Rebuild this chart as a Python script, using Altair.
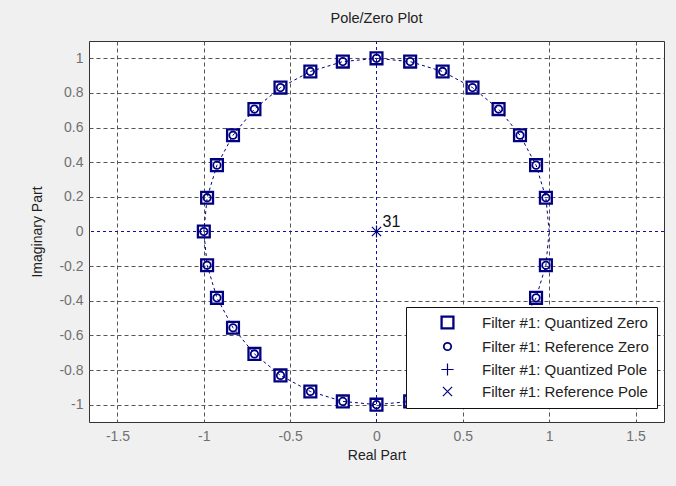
import altair as alt
import pandas as pd

# Zeros of the filter (real, imaginary)
zero_re = [0.981, 0.924, 0.831, 0.707, 0.556, 0.383, 0.195, 0.0, -0.195, -0.383,
           -0.556, -0.707, -0.831, -0.924, -0.981, -1.0, -0.981, -0.924, -0.831,
           -0.707, -0.556, -0.383, -0.195, 0.0, 0.195, 0.383, 0.556, 0.707, 0.831,
           0.924, 0.981]
zero_im = [0.195, 0.383, 0.556, 0.707, 0.831, 0.924, 0.981, 1.0, 0.981, 0.924,
           0.831, 0.707, 0.556, 0.383, 0.195, 0.0, -0.195, -0.383, -0.556, -0.707,
           -0.831, -0.924, -0.981, -1.0, -0.981, -0.924, -0.831, -0.707, -0.556,
           -0.383, -0.195]
# Poles: all at the origin, multiplicity 31
pole_re = [0.0]
pole_im = [0.0]
pole_count = 31

series_names = ["Filter #1: Quantized Zero", "Filter #1: Reference Zero",
                "Filter #1: Quantized Pole", "Filter #1: Reference Pole"]
x_ticks = [-1.5, -1, -0.5, 0, 0.5, 1, 1.5]
y_ticks = [-1, -0.8, -0.6, -0.4, -0.2, 0, 0.2, 0.4, 0.6, 0.8, 1]

NAVY = "#000080"

rows = []
for s in series_names[:2]:
    for r, i in zip(zero_re, zero_im):
        rows.append({"re": r, "im": i, "series": s})
for s in series_names[2:]:
    for r, i in zip(pole_re, pole_im):
        rows.append({"re": r, "im": i, "series": s})
pts = pd.DataFrame(rows)

# Unit circle through the zero locations, closed at (1, 0)
circ_re = [1.0] + zero_re + [1.0]
circ_im = [0.0] + zero_im + [0.0]
circle = pd.DataFrame({"re": circ_re, "im": circ_im, "k": list(range(len(circ_re)))})

label_df = pd.DataFrame({"re": pole_re, "im": pole_im, "txt": [str(pole_count)]})

xs = alt.Scale(domain=[-1.665, 1.665], nice=False, zero=False)
ys = alt.Scale(domain=[-1.1, 1.1], nice=False, zero=False)

grid_col = alt.condition("datum.value == 0", alt.value("transparent"), alt.value("#555555"))

x_axis = alt.Axis(values=x_ticks, title="Real Part", labelFontSize=14, titleFontSize=14,
                  labelColor="#707070", titleColor="#222222", titleFontWeight="normal",
                  ticks=False, domain=False, labelPadding=7, titlePadding=5,
                  gridDash=[4, 3], gridColor=grid_col, labelFlush=False,
                  labelOverlap=False, labelExpr="'' + datum.value")
y_axis = alt.Axis(values=y_ticks, title="Imaginary Part", labelFontSize=14, titleFontSize=14,
                  labelColor="#707070", titleColor="#222222", titleFontWeight="normal",
                  ticks=False, domain=False, labelPadding=6, titlePadding=14,
                  gridDash=[4, 3], gridColor=grid_col, labelFlush=False,
                  labelOverlap=False, labelExpr="'' + datum.value")

X = alt.X("re:Q", scale=xs, axis=x_axis)
Y = alt.Y("im:Q", scale=ys, axis=y_axis)

base_circle = alt.Chart(circle).mark_line(color=NAVY, strokeWidth=1, strokeDash=[3, 3]).encode(
    x=X, y=Y, order="k:Q",
)

hline = alt.Chart(label_df).mark_rule(color="#1010a0", strokeDash=[3, 3], strokeWidth=1).encode(y=Y)
vline = alt.Chart(label_df).mark_rule(color="#1010a0", strokeDash=[3, 3], strokeWidth=1).encode(x=X)

plus_path = "M-1,0L1,0M0,-1L0,1"
x_path = "M-0.75,-0.75L0.75,0.75M-0.75,0.75L0.75,-0.75"

legend = alt.Legend(title=None, orient="none", legendX=317, legendY=266,
                    fillColor="white", strokeColor="#111111", padding=8,
                    labelFontSize=15, labelColor="#222222", labelLimit=400,
                    rowPadding=5, symbolOffset=26, labelOffset=27,
                    symbolStrokeColor=NAVY, symbolFillColor="transparent",
                    symbolStrokeWidth=1.3)

points = alt.Chart(pts).mark_point(filled=False, color=NAVY, opacity=1).encode(
    x=X, y=Y,
    shape=alt.Shape("series:N", scale=alt.Scale(domain=series_names,
                                                range=["square", "circle", plus_path, x_path]),
                    legend=legend),
    size=alt.Size("series:N", scale=alt.Scale(type="ordinal", domain=series_names,
                                              range=[140, 55, 150, 150]),
                  legend=legend),
    strokeWidth=alt.StrokeWidth("series:N",
                                scale=alt.Scale(type="ordinal", domain=series_names,
                                                range=[2.3, 1.8, 1.2, 1.2]),
                                legend=None),
)

label = alt.Chart(label_df).mark_text(align="left", baseline="bottom", dx=6, dy=-2,
                                      fontSize=16, color="#111111",
                                      font="Liberation Sans").encode(
    x=X, y=Y, text="txt:N",
)

chart = alt.layer(base_circle, hline, vline, points, label).properties(
    width=575, height=381,
    title=alt.TitleParams("Pole/Zero Plot", fontSize=14.5, fontWeight="normal",
                          color="#222222", offset=14, anchor="middle"),
    autosize=alt.AutoSizeParams(type="none"),
    padding={"left": 89, "top": 41, "right": 12, "bottom": 64},
    background="#f0f0f0",
).configure(
    font="Liberation Sans",
).configure_view(
    fill="white", stroke="#333333", strokeWidth=1,
).configure_axis(
    gridOpacity=1, gridWidth=1,
)

chart.save("out.html", embed_options={"renderer": "svg", "actions": False})
